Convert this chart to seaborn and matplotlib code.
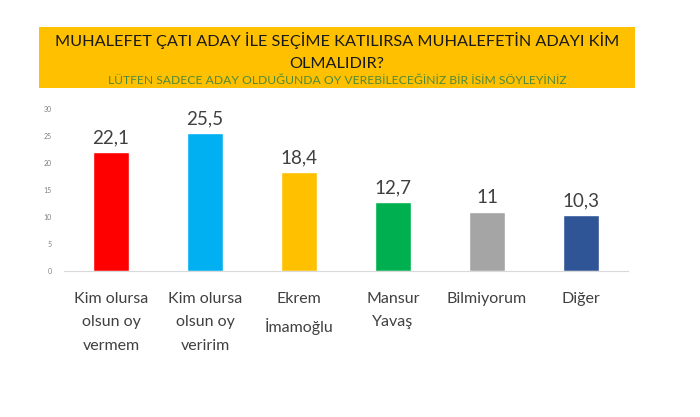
import matplotlib
matplotlib.use("Agg")
import matplotlib.pyplot as plt
import seaborn as sns
import pandas as pd
from matplotlib.patches import Rectangle

categories = ["Kim olursa\nolsun oy\nvermem", "Kim olursa\nolsun oy\nveririm", "Ekrem\nİmamoğlu",
              "Mansur\nYavaş", "Bilmiyorum", "Diğer"]
values = [22.1, 25.5, 18.4, 12.7, 11.0, 10.3]
value_labels = ["22,1", "25,5", "18,4", "12,7", "11", "10,3"]
colors = ["#FF0000", "#00B0F0", "#FFC000", "#00B050", "#A5A5A5", "#2F5597"]
yticks = [0, 5, 10, 15, 20, 25, 30]
title = "MUHALEFET ÇATI ADAY İLE SEÇİME KATILIRSA MUHALEFETİN ADAYI KİM\nOLMALIDIR?"
subtitle = "LÜTFEN SADECE ADAY OLDUĞUNDA OY VEREBİLECEĞİNİZ BİR İSİM SÖYLEYİNİZ"

sns.set_theme(style="white")
plt.rcParams['font.family'] = ['Lato', 'DejaVu Sans']

df = pd.DataFrame({"cat": categories, "val": values})

W, H = 700, 417
fig = plt.figure(figsize=(7, 4.17), dpi=100)
ax = fig.add_axes([64 / W, 1 - 271 / H, (628 - 64) / W, (271 - 109) / H])

sns.barplot(data=df, x="cat", y="val", hue="cat", palette=colors, legend=False,
            width=0.39, ax=ax, saturation=1)

ax.set_ylim(0, 30)
ax.set_xlim(-0.5, len(categories) - 0.5)
ax.set_yticks(yticks)
ax.set_yticklabels([str(t) for t in yticks], fontsize=5, color="#808080")
ax.tick_params(axis="y", length=0, pad=9)
ax.set_xticks(range(len(categories)))
ax.set_xticklabels(categories, fontsize=11.5, color="#404040", linespacing=1.85)
ax.tick_params(axis="x", length=0, pad=15)
ax.set_xticks([i - 0.5 for i in range(len(categories) + 1)], minor=True)
ax.tick_params(axis="x", which="minor", length=5, color="#D9D9D9", width=0.8)
ax.set_xlabel("")
ax.set_ylabel("")
for s in ["left", "right", "top"]:
    ax.spines[s].set_visible(False)
ax.spines["bottom"].set_color("#D9D9D9")
ax.spines["bottom"].set_linewidth(0.8)

for i, (v, lab) in enumerate(zip(values, value_labels)):
    ax.annotate(lab, (i, v), xytext=(0, 4), textcoords="offset points",
                ha="center", va="bottom", fontsize=13.5, color="#404040")

# Banner
fig.patches.append(Rectangle((39 / W, 1 - 88 / H), (635 - 39) / W, (88 - 27) / H,
                             transform=fig.transFigure, facecolor="#FFC000",
                             edgecolor="none", zorder=0))
fig.text(337 / W, 1 - 51.5 / H, title, ha="center", va="center", fontsize=11.7,
         color="#1A1A1A", linespacing=1.8)
fig.text(337 / W, 1 - 80 / H, subtitle, ha="center", va="center", fontsize=8.7,
         color="#4E8A3A")

fig.savefig("out.png", dpi=100)
